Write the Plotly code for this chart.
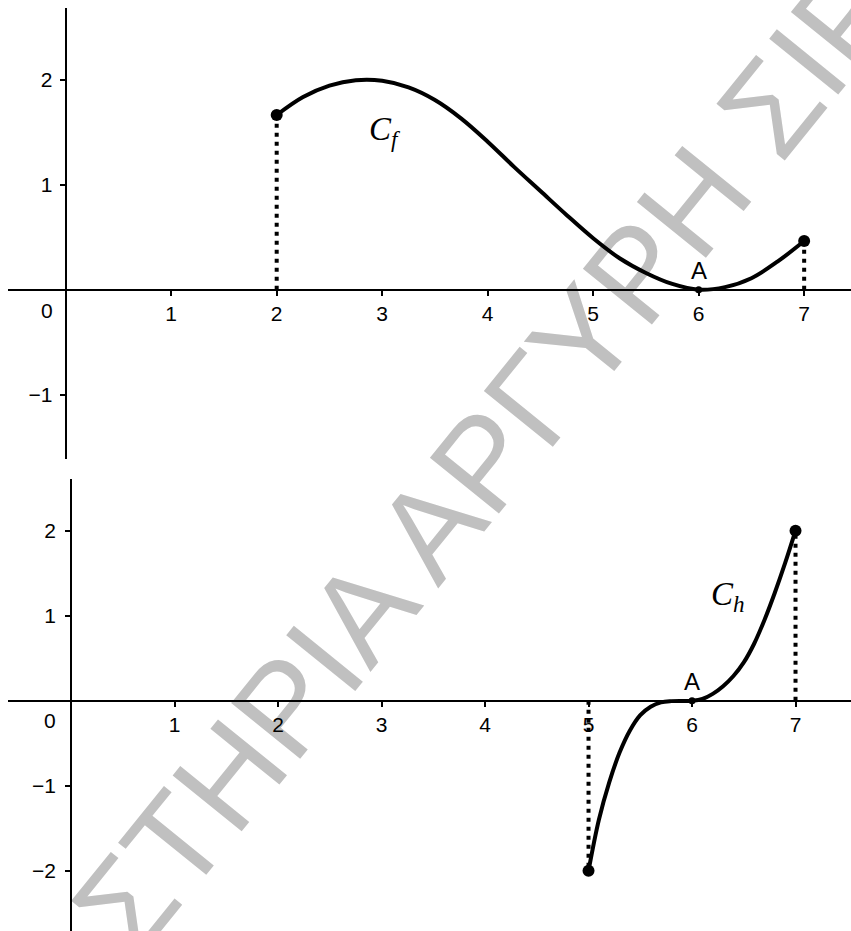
import plotly.graph_objects as go

# ---------------- data ----------------
# upper graph: C_f
f_x = [2.0, 2.25, 2.5, 2.75, 3.0, 3.25, 3.5, 3.75, 4.0, 4.25, 4.5, 4.75, 5.0,
       5.25, 5.5, 5.75, 6.0, 6.25, 6.5, 6.75, 7.0]
f_y = [1.664, 1.835, 1.944, 1.995, 1.99, 1.927, 1.807, 1.63, 1.41, 1.17, 0.94, 0.71, 0.49,
       0.30, 0.16, 0.055, 0.0, 0.025, 0.11, 0.27, 0.464]
# lower graph: C_h
h_x = [5.0, 5.1, 5.2, 5.3, 5.4, 5.5, 5.6, 5.7, 5.8, 6.0, 6.1, 6.2, 6.3, 6.4,
       6.5, 6.6, 6.7, 6.8, 6.9, 7.0]
h_y = [-2.0, -1.40, -0.96, -0.61, -0.35, -0.17, -0.07, -0.02, -0.005, 0.0, 0.02, 0.08, 0.17, 0.29,
       0.45, 0.67, 0.95, 1.27, 1.62, 2.0]
# point A
a_x = [6.0]
a_y = [0.0]
# ticks
top_xticks = [1, 2, 3, 4, 5, 6, 7]
top_yticks = [-1, 1, 2]
bot_xticks = [1, 2, 3, 4, 5, 6, 7]
bot_yticks = [-2, -1, 1, 2]
watermark = "ΣΤΗΡΙΑ ΑΡΓΥΡΗ ΣΙΡ"

# ---------------- layout geometry ----------------
W, H = 851, 931
def px(x):
    return x / W
def py(y):
    return 1 - y / H

top_xr = [-0.547, 7.444]
top_yr = [-1.612, 2.683]
bot_xr = [-0.609, 7.536]
bot_yr = [-2.709, 2.608]

top_xdom = [px(8), 1.0]
top_ydom = [py(459), py(8)]
bot_xdom = [px(8), 1.0]
bot_ydom = [0.0, py(479)]

def zero_pos(dom, rng):
    return dom[0] + (0 - rng[0]) / (rng[1] - rng[0]) * (dom[1] - dom[0])

TICKFONT = dict(family="Liberation Sans, Arial, sans-serif", size=21, color="black")

fig = go.Figure()

def add_graph(xs, ys, xa, ya):
    # dotted verticals at the ends
    for i in (0, -1):
        fig.add_trace(go.Scatter(x=[xs[i], xs[i]], y=[0, ys[i]], mode="lines",
                                 line=dict(color="black", width=4, dash="4px,5px"),
                                 xaxis=xa, yaxis=ya, hoverinfo="skip"))
    fig.add_trace(go.Scatter(x=xs, y=ys, mode="lines",
                             line=dict(color="black", width=4, shape="spline", smoothing=1.0),
                             xaxis=xa, yaxis=ya))
    fig.add_trace(go.Scatter(x=[xs[0], xs[-1]], y=[ys[0], ys[-1]], mode="markers",
                             marker=dict(color="black", size=12),
                             xaxis=xa, yaxis=ya))
    fig.add_trace(go.Scatter(x=a_x, y=a_y, mode="markers",
                             marker=dict(color="black", size=7),
                             xaxis=xa, yaxis=ya))

add_graph(f_x, f_y, "x", "y")
add_graph(h_x, h_y, "x2", "y2")

def xaxis(dom, rng, pos, ticks):
    return dict(domain=dom, range=rng, anchor="free", position=pos, showline=True,
                linewidth=2, linecolor="black", ticks="outside", ticklen=5, tickwidth=2,
                tickcolor="black", tickvals=ticks, showgrid=False, zeroline=False,
                tickfont=TICKFONT, fixedrange=True)

def yaxis(dom, rng, pos, ticks, standoff):
    return dict(domain=dom, range=rng, anchor="free", position=pos, showline=True,
                linewidth=2, linecolor="black", ticks="outside", ticklen=5, tickwidth=2,
                tickcolor="black", tickvals=ticks, showgrid=False, zeroline=False,
                tickfont=TICKFONT, fixedrange=True, ticklabelstandoff=standoff)

fig.update_layout(
    width=W, height=H,
    margin=dict(l=0, r=0, t=0, b=0),
    paper_bgcolor="white", plot_bgcolor="rgba(0,0,0,0)",
    showlegend=False,
    xaxis=xaxis(top_xdom, top_xr, zero_pos(top_ydom, top_yr), top_xticks),
    yaxis=yaxis(top_ydom, top_yr, zero_pos(top_xdom, top_xr), top_yticks, 3),
    xaxis2=xaxis(bot_xdom, bot_xr, zero_pos(bot_ydom, bot_yr), bot_xticks),
    yaxis2=yaxis(bot_ydom, bot_yr, zero_pos(bot_xdom, bot_xr), bot_yticks, 5),
)

# watermark behind everything
cx, cy = 477, 450
fig.add_shape(type="rect", xref="paper", yref="paper",
              x0=px(cx - 5), x1=px(cx + 5), y0=py(cy + 5), y1=py(cy - 5),
              line=dict(width=0), fillcolor="rgba(0,0,0,0)", layer="below",
              label=dict(text=watermark, textangle=-51, textposition="middle center",
                         font=dict(family="Liberation Sans, Arial, sans-serif", size=129,
                                   color="#c0c0c0")))

# origin labels "0"
fig.add_annotation(xref="paper", yref="paper", x=px(46.5), y=py(310.5), text="0",
                   showarrow=False, font=TICKFONT, xanchor="center", yanchor="middle")
fig.add_annotation(xref="paper", yref="paper", x=px(50), y=py(720), text="0",
                   showarrow=False, font=TICKFONT, xanchor="center", yanchor="middle")

# point labels A
ALAB = dict(family="Liberation Sans, Arial, sans-serif", size=24, color="black")
fig.add_annotation(xref="x", yref="y", x=a_x[0], y=a_y[0], text="A", showarrow=False,
                   font=ALAB, yanchor="bottom", yshift=4)
fig.add_annotation(xref="x2", yref="y2", x=a_x[0], y=a_y[0], text="A", showarrow=False,
                   font=ALAB, yanchor="bottom", yshift=4)

# curve names
CLAB = dict(family="Liberation Serif, Times New Roman, serif", size=33, color="black")
fig.add_annotation(xref="x", yref="y", x=3.03, y=1.51, text="<i>C</i><sub><i>f</i></sub>",
                   showarrow=False, font=CLAB)
fig.add_annotation(xref="x2", yref="y2", x=6.35, y=1.23, text="<i>C</i><sub><i>h</i></sub>",
                   showarrow=False, font=CLAB)

fig.write_html("out.html",
               config={"displayModeBar": False},
               post_script="document.body.style.margin='0px';"
                           "document.body.style.overflow='hidden';")
